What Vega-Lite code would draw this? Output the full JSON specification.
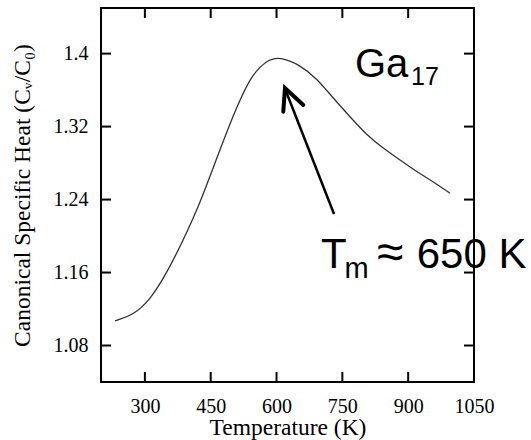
{
  "$schema": "https://vega.github.io/schema/vega-lite/v6.json",
  "autosize": {"type": "none"},
  "width": 373,
  "height": 374,
  "padding": {"left": 101, "top": 8, "right": 57, "bottom": 58},
  "background": "white",
  "config": {
    "view": {"stroke": "black", "strokeWidth": 2},
    "axis": {
      "labelFont": "Liberation Serif",
      "labelFontSize": 20,
      "labelColor": "black",
      "titleFont": "Liberation Serif",
      "titleFontSize": 23.5,
      "titleFontWeight": "normal",
      "titleColor": "black"
    }
  },
  "datasets": {
    "curve": [
      {"T": 232, "C": 1.1069},
      {"T": 273.6, "C": 1.1135},
      {"T": 311.7, "C": 1.1299},
      {"T": 349.7, "C": 1.1592},
      {"T": 387.5, "C": 1.1957},
      {"T": 425.6, "C": 1.2359},
      {"T": 463.7, "C": 1.2852},
      {"T": 501.5, "C": 1.3327},
      {"T": 539.6, "C": 1.3747},
      {"T": 577.6, "C": 1.393},
      {"T": 607.9, "C": 1.3966},
      {"T": 653.5, "C": 1.3875},
      {"T": 691.6, "C": 1.3729},
      {"T": 729.4, "C": 1.351},
      {"T": 767.4, "C": 1.3308},
      {"T": 805.5, "C": 1.3108},
      {"T": 843.3, "C": 1.2962},
      {"T": 881.4, "C": 1.2834},
      {"T": 919.4, "C": 1.2705},
      {"T": 957.3, "C": 1.2596},
      {"T": 995.3, "C": 1.2469}
    ],
    "xticks": [{"T": 300}, {"T": 450}, {"T": 600}, {"T": 750}, {"T": 900}, {"T": 1050}],
    "yticks": [{"C": 1.08}, {"C": 1.16}, {"C": 1.24}, {"C": 1.32}, {"C": 1.4}],
    "shaft": [{"T": 731, "C": 1.2242, "T2": 619.8, "C2": 1.3610}],
    "head": [
      {"T": 615.4, "C": 1.3363, "o": 1},
      {"T": 619.3, "C": 1.3623, "o": 2},
      {"T": 661.0, "C": 1.3437, "o": 3}
    ],
    "ga": [{"T": 778.8, "C": 1.3749, "label": "Ga"}],
    "ga_sub": [{"T": 906.4, "C": 1.3656, "label": "17"}],
    "tm": [{"T": 701.3, "C": 1.1653, "label": "T"}],
    "tm_sub": [{"T": 755, "C": 1.154, "label": "m"}],
    "tm_approx": [{"T": 829, "C": 1.1653, "label": "≈"}],
    "tm_val": [{"T": 919.5, "C": 1.1653, "label": "650 K"}]
  },
  "layer": [
    {
      "data": {"name": "curve"},
      "mark": {"type": "line", "color": "#333333", "strokeWidth": 1.3, "interpolate": "basis"},
      "encoding": {
        "x": {"field": "T", "type": "quantitative", "scale": {"domain": [200, 1050], "nice": false, "zero": false},
              "axis": {"orient": "bottom", "values": [300, 450, 600, 750, 900, 1050], "labelExpr": "'' + datum.value", "labelFlush": false,
                       "domain": false, "grid": false, "ticks": false,
                       "title": "Temperature (K)", "labelPadding": 14, "titlePadding": -1}},
        "y": {"field": "C", "type": "quantitative", "scale": {"domain": [1.04, 1.45], "nice": false, "zero": false},
              "axis": {"orient": "left", "values": [1.08, 1.16, 1.24, 1.32, 1.4], "labelExpr": "'' + datum.value", "labelFlush": false,
                       "domain": false, "grid": false, "ticks": false,
                       "title": "Canonical Specific Heat (Cᵥ/C₀)", "labelPadding": 13, "titlePadding": 19}}
      }
    },
    {
      "data": {"name": "xticks"},
      "mark": {"type": "rule", "color": "black", "strokeWidth": 2},
      "encoding": {
        "x": {"field": "T", "type": "quantitative", "scale": {"domain": [200, 1050], "nice": false, "zero": false}},
        "y": {"datum": 1.04, "type": "quantitative", "scale": {"domain": [1.04, 1.45], "nice": false, "zero": false}},
        "y2": {"datum": 1.051}
      }
    },
    {
      "data": {"name": "xticks"},
      "mark": {"type": "rule", "color": "black", "strokeWidth": 2},
      "encoding": {
        "x": {"field": "T", "type": "quantitative", "scale": {"domain": [200, 1050], "nice": false, "zero": false}},
        "y": {"datum": 1.45, "type": "quantitative", "scale": {"domain": [1.04, 1.45], "nice": false, "zero": false}},
        "y2": {"datum": 1.439}
      }
    },
    {
      "data": {"name": "yticks"},
      "mark": {"type": "rule", "color": "black", "strokeWidth": 2},
      "encoding": {
        "x": {"datum": 200, "type": "quantitative", "scale": {"domain": [200, 1050], "nice": false, "zero": false}},
        "x2": {"datum": 222.8},
        "y": {"field": "C", "type": "quantitative", "scale": {"domain": [1.04, 1.45], "nice": false, "zero": false}}
      }
    },
    {
      "data": {"name": "yticks"},
      "mark": {"type": "rule", "color": "black", "strokeWidth": 2},
      "encoding": {
        "x": {"datum": 1050, "type": "quantitative", "scale": {"domain": [200, 1050], "nice": false, "zero": false}},
        "x2": {"datum": 1027.2},
        "y": {"field": "C", "type": "quantitative", "scale": {"domain": [1.04, 1.45], "nice": false, "zero": false}}
      }
    },
    {
      "data": {"name": "shaft"},
      "mark": {"type": "rule", "color": "black", "strokeWidth": 2.5},
      "encoding": {
        "x": {"field": "T", "type": "quantitative", "scale": {"domain": [200, 1050], "nice": false, "zero": false}},
        "y": {"field": "C", "type": "quantitative", "scale": {"domain": [1.04, 1.45], "nice": false, "zero": false}},
        "x2": {"field": "T2"},
        "y2": {"field": "C2"}
      }
    },
    {
      "data": {"name": "head"},
      "mark": {"type": "line", "color": "black", "strokeWidth": 4, "strokeCap": "round", "strokeJoin": "miter"},
      "encoding": {
        "x": {"field": "T", "type": "quantitative", "scale": {"domain": [200, 1050], "nice": false, "zero": false}},
        "y": {"field": "C", "type": "quantitative", "scale": {"domain": [1.04, 1.45], "nice": false, "zero": false}},
        "order": {"field": "o"}
      }
    },
    {
      "data": {"name": "ga"},
      "mark": {"type": "text", "font": "Liberation Sans", "fontSize": 40, "align": "left", "baseline": "alphabetic", "color": "black"},
      "encoding": {
        "x": {"field": "T", "type": "quantitative", "scale": {"domain": [200, 1050], "nice": false, "zero": false}},
        "y": {"field": "C", "type": "quantitative", "scale": {"domain": [1.04, 1.45], "nice": false, "zero": false}},
        "text": {"field": "label"}
      }
    },
    {
      "data": {"name": "ga_sub"},
      "mark": {"type": "text", "font": "Liberation Sans", "fontSize": 25, "align": "left", "baseline": "alphabetic", "color": "black"},
      "encoding": {
        "x": {"field": "T", "type": "quantitative", "scale": {"domain": [200, 1050], "nice": false, "zero": false}},
        "y": {"field": "C", "type": "quantitative", "scale": {"domain": [1.04, 1.45], "nice": false, "zero": false}},
        "text": {"field": "label"}
      }
    },
    {
      "data": {"name": "tm"},
      "mark": {"type": "text", "font": "Liberation Sans", "fontSize": 42, "align": "left", "baseline": "alphabetic", "color": "black"},
      "encoding": {
        "x": {"field": "T", "type": "quantitative", "scale": {"domain": [200, 1050], "nice": false, "zero": false}},
        "y": {"field": "C", "type": "quantitative", "scale": {"domain": [1.04, 1.45], "nice": false, "zero": false}},
        "text": {"field": "label"}
      }
    },
    {
      "data": {"name": "tm_sub"},
      "mark": {"type": "text", "font": "Liberation Sans", "fontSize": 29, "align": "left", "baseline": "alphabetic", "color": "black"},
      "encoding": {
        "x": {"field": "T", "type": "quantitative", "scale": {"domain": [200, 1050], "nice": false, "zero": false}},
        "y": {"field": "C", "type": "quantitative", "scale": {"domain": [1.04, 1.45], "nice": false, "zero": false}},
        "text": {"field": "label"}
      }
    },
    {
      "data": {"name": "tm_approx"},
      "mark": {"type": "text", "font": "Liberation Sans", "fontSize": 48, "align": "left", "baseline": "alphabetic", "color": "black"},
      "encoding": {
        "x": {"field": "T", "type": "quantitative", "scale": {"domain": [200, 1050], "nice": false, "zero": false}},
        "y": {"field": "C", "type": "quantitative", "scale": {"domain": [1.04, 1.45], "nice": false, "zero": false}},
        "text": {"field": "label"}
      }
    },
    {
      "data": {"name": "tm_val"},
      "mark": {"type": "text", "font": "Liberation Sans", "fontSize": 42, "align": "left", "baseline": "alphabetic", "color": "black"},
      "encoding": {
        "x": {"field": "T", "type": "quantitative", "scale": {"domain": [200, 1050], "nice": false, "zero": false}},
        "y": {"field": "C", "type": "quantitative", "scale": {"domain": [1.04, 1.45], "nice": false, "zero": false}},
        "text": {"field": "label"}
      }
    }
  ]
}
